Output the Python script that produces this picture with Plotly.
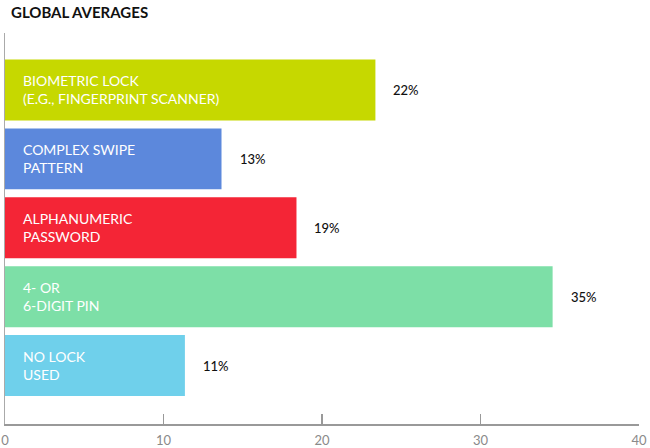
import plotly.graph_objects as go

title_text = "GLOBAL AVERAGES"
categories = [
    "BIOMETRIC LOCK<br>(E.G., FINGERPRINT SCANNER)",
    "COMPLEX SWIPE<br>PATTERN",
    "ALPHANUMERIC<br>PASSWORD",
    "4- OR<br>6-DIGIT PIN",
    "NO LOCK<br>USED",
]
values = [23.37, 13.66, 18.39, 34.55, 11.35]
value_labels = ["22%", "13%", "19%", "35%", "11%"]
colors = ["#c6d800", "#5c88dc", "#f42536", "#7ddfa7", "#6fd0eb"]
x_ticks = [0, 10, 20, 30, 40]

fig = go.Figure()
fig.add_trace(go.Bar(
    x=values,
    y=categories,
    orientation="h",
    marker=dict(color=colors, line=dict(width=0)),
    hoverinfo="skip",
))

annotations = []
for cat, v, lab in zip(categories, values, value_labels):
    annotations.append(dict(
        x=0, y=cat, xref="x", yref="y", text=cat, showarrow=False,
        xanchor="left", yanchor="middle", align="left", xshift=16,
        font=dict(family="Lato", size=14, color="white"),
    ))
    annotations.append(dict(
        x=v, y=cat, xref="x", yref="y", text=lab, showarrow=False,
        xanchor="left", yanchor="middle", xshift=16,
        font=dict(family="Lato", size=13, color="#111111", weight=500),
    ))

annotations.append(dict(
    x=0, y=1, xref="paper", yref="paper", text="<b>" + title_text + "</b>",
    showarrow=False, xanchor="left", yanchor="middle", xshift=4, yshift=21,
    font=dict(family="Lato", size=15, color="#111111"),
))

fig.update_layout(
    width=650, height=448,
    margin=dict(l=5, r=11, t=33, b=24),
    paper_bgcolor="white", plot_bgcolor="white",
    showlegend=False,
    bargap=0.115,
    annotations=annotations,
    xaxis=dict(
        range=[0, 40], tickvals=x_ticks, ticktext=[str(t) for t in x_ticks],
        showgrid=False, zeroline=False,
        showline=True, linecolor="#999999", linewidth=1.5,
        ticks="inside", ticklen=10, tickcolor="#999999", tickwidth=1.5,
        tickfont=dict(family="Lato", size=13, color="#8a8a8a"),
        ticklabelstandoff=4,
        automargin=False, fixedrange=True,
    ),
    yaxis=dict(
        type="category", range=[4.848, -0.827],
        showticklabels=False, showgrid=False, zeroline=False,
        showline=True, linecolor="#aaaaaa", linewidth=1.5, ticks="",
        automargin=False, fixedrange=True,
    ),
)

fig.write_html(
    "out.html",
    config={"displayModeBar": False, "staticPlot": True},
    post_script="document.body.style.margin='0';document.body.style.padding='0';",
)
